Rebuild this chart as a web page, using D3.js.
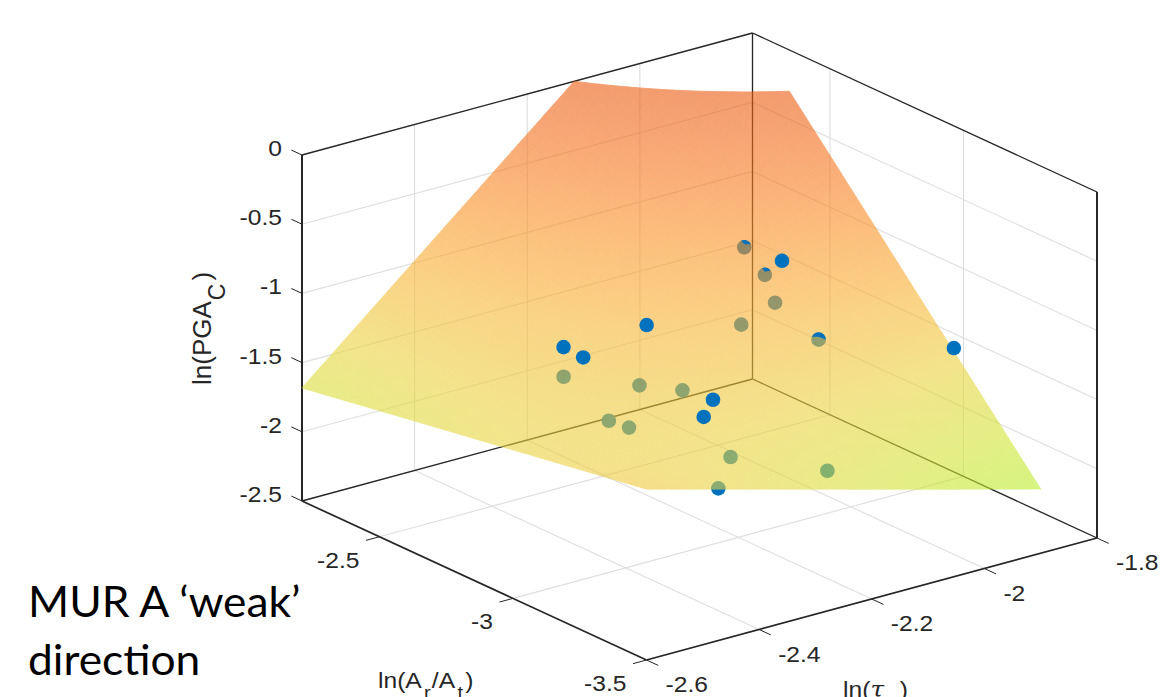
<!DOCTYPE html>
<html>
<head>
<meta charset="utf-8">
<script src="https://cdn.jsdelivr.net/npm/d3@7"></script>
<style>
    html, body { margin: 0; padding: 0; background: #fff; overflow: hidden; }
    svg { display: block; }
    .tick-label { font-family: "Liberation Sans", Arial, sans-serif; font-size: 22px; fill: #262626; }
    .axis-title { font-family: "Liberation Sans", Arial, sans-serif; font-size: 22px; fill: #262626; }
    .note { font-family: Lato, "Open Sans", sans-serif; font-size: 42px; fill: #000; }
</style>
</head>
<body>
<svg id="chart" width="1161" height="697"></svg>
<script>
// Axis limits and ticks
const arLimits = [-3.5, -2.21];
const tauLimits = [-2.6, -1.8];
const pgaLimits = [-2.5, 0];
const arTicks = [-3.5, -3, -2.5];
const tauTicks = [-2.6, -2.4, -2.2, -2, -1.8];
const pgaTicks = [-2.5, -2, -1.5, -1, -0.5, 0];

// Fitted surface, ln(PGA_C) read at each grid node (rows = ln(Ar/At), columns = ln(tau))
const surfaceAr = [-3.5, -3.1775, -2.855, -2.5325, -2.21];
const surfaceTau = [-2.6, -2.425, -2.25, -2.075, -1.9];
const surfacePga = [
    [-1.265, -1.458, -1.651, -1.844, -2.036],
    [-1.369, -1.362, -1.354, -1.346, -1.339],
    [-1.474, -1.266, -1.057, -0.849, -0.641],
    [-1.578, -1.170, -0.761, -0.352, 0.057],
    [-1.683, -1.073, -0.464, 0.145, 0.755]
];

// Observations in front of the surface
const frontAr = [-2.991, -2.849, -2.776, -2.856, -3.323, -3.398, -3.392];
const frontTau = [-2.118, -2.291, -2.404, -2.407, -2.398, -2.45, -2.003];
const frontPga = [-0.6, -1.0, -1.1, -1.1, -1.0, -1.0, -1.0];

// Observations behind the surface
const behindAr = [-2.778, -2.855, -2.771, -2.695, -3.052, -2.574, -2.723, -2.808, -2.72, -2.783, -3.003, -3.066, -2.934];
const behindTau = [-2.084, -2.084, -2.026, -2.05, -2.082, -2.308, -2.244, -2.208, -2.297, -2.291, -2.215, -2.073, -2.204];
const behindPga = [-0.73, -0.86, -1.2, -1.4, -1.155, -1.6, -1.6, -1.6, -1.8, -1.8, -1.9, -2.1, -2.2];

// Points that poke through the surface: index into the behind arrays, visible sector in degrees
const pokeIndex = [0, 1, 4];
const pokeFrom = [-39, -34, -90];
const pokeTo = [90, 77, 113];

const svg = d3.select("#chart");

// Oblique projection of the box, MATLAB style view
const uScale = d3.scaleLinear().domain(arLimits).range([0, 1]);
const vScale = d3.scaleLinear().domain(tauLimits).range([0, 1]);
const wScale = d3.scaleLinear().domain(pgaLimits).range([0, 1]);

const project = (ar, tau, pga) => {
    const u = uScale(ar), v = vScale(tau), w = wScale(pga);
    return [646.5 - 344.5 * u + 450.5 * v, 660 - 159 * u - 122 * v - 346 * w];
};

const line = (g, a, b, color, width) => {
    const p = project(...a), q = project(...b);
    g.append("line").attr("x1", p[0]).attr("y1", p[1]).attr("x2", q[0]).attr("y2", q[1])
        .attr("stroke", color).attr("stroke-width", width);
};

const [a0, a1] = arLimits, [t0, t1] = tauLimits, [z0, z1] = pgaLimits;

// Grid on floor and the two back walls
const grid = svg.append("g");
const gridColor = "#dedede";
arTicks.forEach(a => {
    line(grid, [a, t0, z0], [a, t1, z0], gridColor, 1.1);
    line(grid, [a, t1, z0], [a, t1, z1], gridColor, 1.1);
});
tauTicks.forEach(t => {
    line(grid, [a0, t, z0], [a1, t, z0], gridColor, 1.1);
    line(grid, [a1, t, z0], [a1, t, z1], gridColor, 1.1);
});
pgaTicks.forEach(z => {
    line(grid, [a1, t0, z], [a1, t1, z], gridColor, 1.1);
    line(grid, [a1, t1, z], [a0, t1, z], gridColor, 1.1);
});

// Box edges, the outer verticals and front floor edges come out heavier
const box = svg.append("g");
const boxColor = "#262626";
[
    [[a1, t0, z0], [a1, t1, z0]], [[a1, t1, z0], [a0, t1, z0]],
    [[a1, t1, z0], [a1, t1, z1]], [[a1, t0, z1], [a1, t1, z1]], [[a1, t1, z1], [a0, t1, z1]]
].forEach(e => line(box, e[0], e[1], boxColor, 1.3));
[[[a1, t0, z0], [a0, t0, z0]], [[a0, t0, z0], [a0, t1, z0]]].forEach(e => line(box, e[0], e[1], boxColor, 1.7));
[[[a1, t0, z0], [a1, t0, z1]], [[a0, t1, z0], [a0, t1, z1]]].forEach(e => line(box, e[0], e[1], boxColor, 2));

// Ticks
const ticks = svg.append("g");
pgaTicks.forEach(z => line(ticks, [a1, t0, z], [a1 + 0.04, t0, z], boxColor, 1));
arTicks.forEach(a => line(ticks, [a, t0, z0], [a, t0 - 0.024, z0], boxColor, 1));
tauTicks.forEach(t => line(ticks, [a0, t, z0], [a0 - 0.044, t, z0], boxColor, 1));

const dot = (g, data, fill) => g.selectAll("circle").data(data).enter().append("circle")
    .attr("cx", d => d[0]).attr("cy", d => d[1]).attr("r", 7.3).attr("fill", fill);

const blue = "#0072BD";
const behind = behindAr.map((a, i) => project(a, behindTau[i], behindPga[i]));
dot(svg.append("g"), behind, blue);

// Surface: table nodes are blended across each cell only to shade it smoothly, cut at the top of the box
const color = d3.scaleLinear()
    .domain([-2.05, -1.75, -1.4, -1.05, -0.7, -0.35, 0])
    .range(["#b9ee2a", "#d2e435", "#ecd23f", "#f8b536", "#fb9427", "#f6741c", "#ec5a10"])
    .clamp(true);

const nodePga = (r, c) => {
    const i = Math.min(Math.floor(r), surfaceAr.length - 2), j = Math.min(Math.floor(c), surfaceTau.length - 2);
    const fr = r - i, fc = c - j;
    return d3.interpolateNumber(
        d3.interpolateNumber(surfacePga[i][j], surfacePga[i][j + 1])(fc),
        d3.interpolateNumber(surfacePga[i + 1][j], surfacePga[i + 1][j + 1])(fc)
    )(fr);
};
const nodeAr = r => d3.scaleLinear().domain(d3.range(surfaceAr.length)).range(surfaceAr)(r);
const nodeTau = c => d3.scaleLinear().domain(d3.range(surfaceTau.length)).range(surfaceTau)(c);

// keep the part of a polygon at or under the top of the box
const clipTop = poly => {
    const out = [];
    poly.forEach((p, i) => {
        const q = poly[(i + 1) % poly.length];
        if (p[2] <= z1) out.push(p);
        if ((p[2] <= z1) !== (q[2] <= z1)) {
            const f = (z1 - p[2]) / (q[2] - p[2]);
            out.push([p[0] + (q[0] - p[0]) * f, p[1] + (q[1] - p[1]) * f, z1]);
        }
    });
    return out;
};

const surface = svg.append("g").attr("opacity", 0.6);
const steps = 64;
const maxR = surfaceAr.length - 1, maxC = surfaceTau.length - 1;
const pathLine = d3.line();
for (let i = 0; i < steps; i++) {
    for (let j = 0; j < steps; j++) {
        const corners = [[i, j], [i + 1, j], [i + 1, j + 1], [i, j + 1]].map(([a, b]) => {
            const r = a / steps * maxR, c = b / steps * maxC;
            return [nodeAr(r), nodeTau(c), nodePga(r, c)];
        });
        const poly = clipTop(corners);
        if (poly.length < 3) continue;
        const fill = color(d3.mean(poly, p => p[2]));
        surface.append("path")
            .attr("d", pathLine(poly.map(p => project(p[0], p[1], p[2]))) + "Z")
            .attr("fill", fill).attr("stroke", fill).attr("stroke-width", 0.9);
    }
}

// Points in front of the surface
dot(svg.append("g"), frontAr.map((a, i) => project(a, frontTau[i], frontPga[i])), blue);

// Caps of the points that poke through: a wedge with its apex above the centre, cut to the marker
const sector = d3.arc().innerRadius(0).outerRadius(14);
const caps = svg.append("g");
const defs = svg.append("defs");
pokeIndex.forEach((idx, i) => {
    const [cx, cy] = behind[idx];
    defs.append("clipPath").attr("id", `cap-${i}`).append("circle").attr("cx", cx).attr("cy", cy).attr("r", 7.3);
    caps.append("g").attr("clip-path", `url(#cap-${i})`).append("path")
        .attr("transform", `translate(${cx},${cy - 3})`)
        .attr("d", sector({ startAngle: pokeFrom[i] * Math.PI / 180, endAngle: pokeTo[i] * Math.PI / 180 }))
        .attr("fill", blue);
});

// Tick labels, the source picture is a little wider than tall
const wide = "scale(1.12,1)";
const labels = svg.append("g");
const tickLabel = (x, y, anchor, value) => labels.append("text").attr("class", "tick-label")
    .attr("transform", `translate(${x},${y}) ${wide}`).attr("text-anchor", anchor).text(String(value));

pgaTicks.forEach(z => {
    const p = project(a1, t0, z);
    tickLabel(p[0] - 20, p[1] + 1, "end", z);
});
arTicks.forEach(a => {
    const p = project(a, t0, z0);
    tickLabel(p[0] - 20, p[1] + 31, "end", a);
});
tauTicks.forEach(t => {
    const p = project(a0, t, z0);
    tickLabel(p[0] + 19, p[1] + 32, "start", t);
});

// Axis titles
const zTitle = svg.append("text").attr("class", "axis-title").style("font-size", "26px")
    .attr("transform", "translate(211,385) rotate(-90)");
zTitle.append("tspan").text("ln(PGA");
zTitle.append("tspan").attr("dy", 14).attr("dx", 1).style("font-size", "23px").text("C");
zTitle.append("tspan").attr("dy", -14).attr("dx", 3).text(")");

const arTitle = svg.append("text").attr("class", "axis-title").attr("transform", `translate(378,688) ${wide}`);
arTitle.append("tspan").text("ln(A");
arTitle.append("tspan").attr("dy", 11).attr("dx", 2).style("font-size", "18px").text("r");
arTitle.append("tspan").attr("dy", -11).attr("dx", 1).text("/A");
arTitle.append("tspan").attr("dy", 11).attr("dx", 2).style("font-size", "18px").text("t");
arTitle.append("tspan").attr("dy", -11).attr("dx", 2).text(")");

const tauTitle = svg.append("text").attr("class", "axis-title").attr("transform", `translate(843,697) ${wide}`);
tauTitle.append("tspan").text("ln(");
tauTitle.append("tspan").style("font-family", "'DejaVu Serif', serif").style("font-style", "italic").text("τ");
tauTitle.append("tspan").attr("dx", 14).text(")");

// Slide annotation
svg.append("text").attr("class", "note").attr("transform", "translate(28,617) scale(1.055,1)").text("MUR A ‘weak’");
svg.append("text").attr("class", "note").attr("transform", "translate(28,675) scale(1.055,1)").text("direction");
</script>
</body>
</html>
